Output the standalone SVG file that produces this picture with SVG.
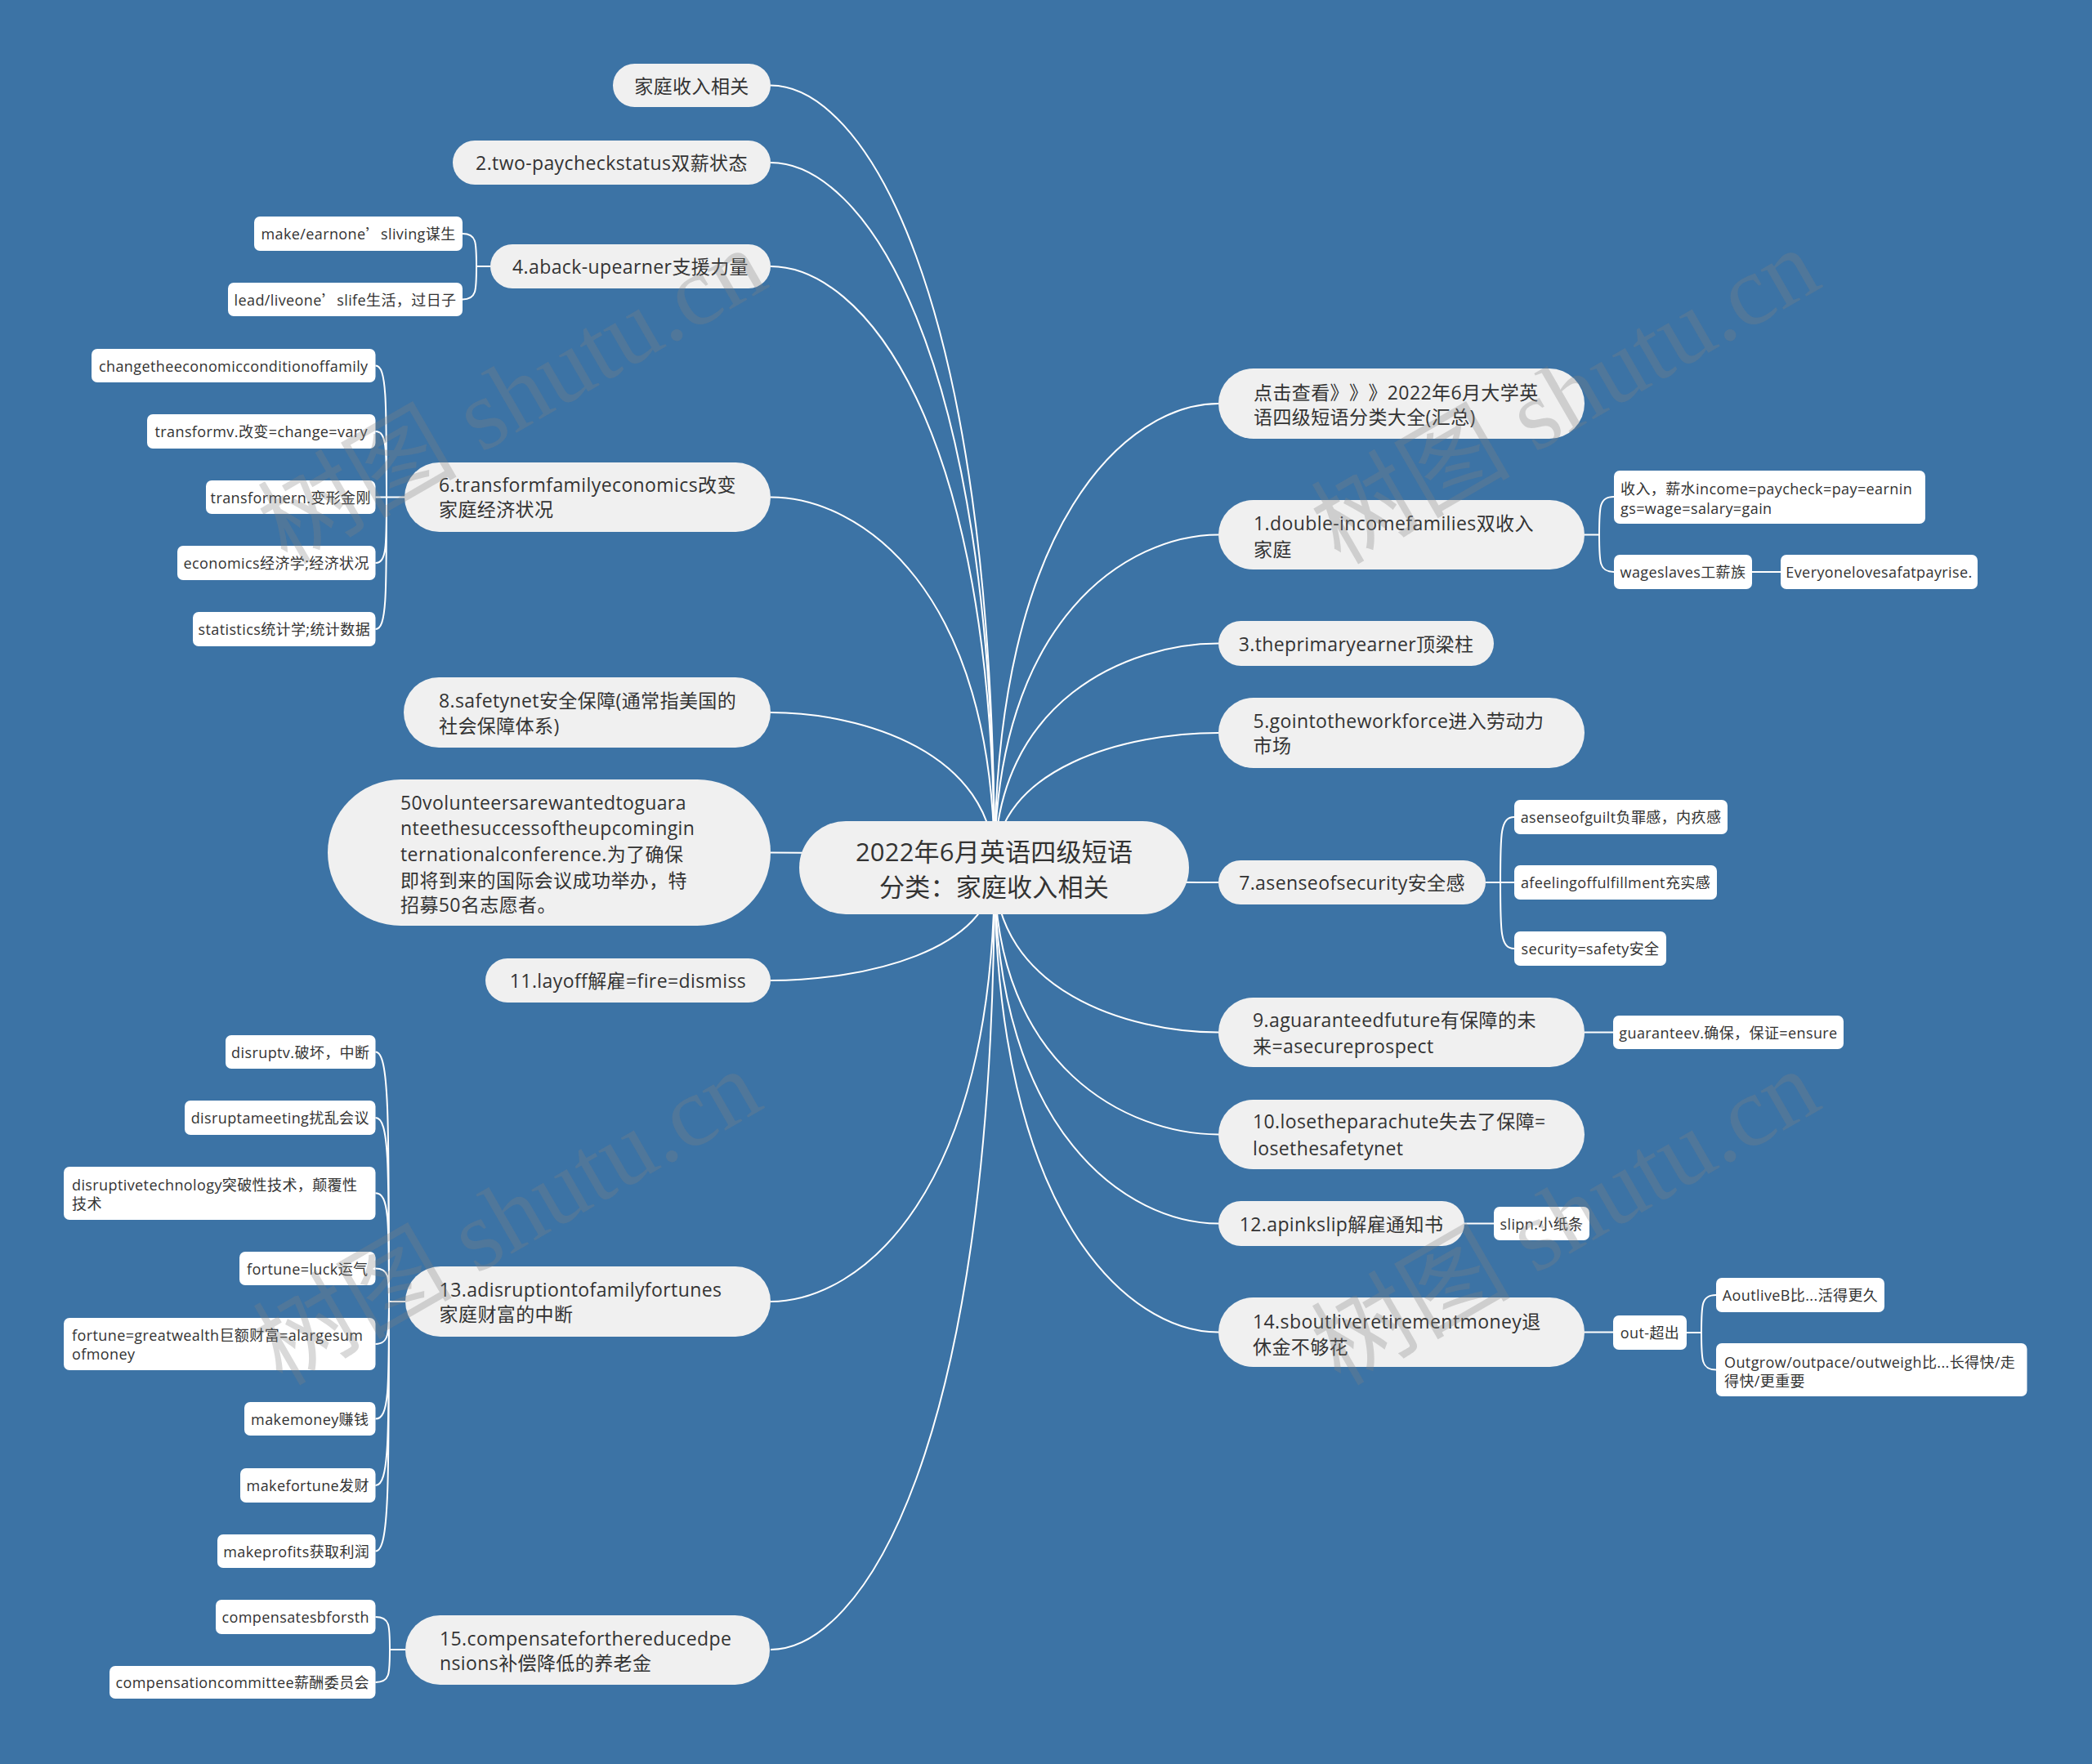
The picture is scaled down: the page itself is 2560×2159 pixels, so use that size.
<svg xmlns="http://www.w3.org/2000/svg" width="2560" height="2159" viewBox="0 0 2560 2159">
<style>
.bg{fill:#3c73a5}
.p{fill:#f0f0f0}
.c{fill:#ffffff}
text{font-family:"Open Sans","Noto Sans CJK SC",sans-serif;fill:#333333;dominant-baseline:central;text-spacing-trim:space-all}
.t1{font-size:23px;letter-spacing:0.4px}
.t2{font-size:18px;letter-spacing:0.4px}
.tr{font-size:31px;letter-spacing:0.2px}
.m{text-anchor:middle}
.q{font-family:"Noto Sans CJK SC",sans-serif}
.ln{fill:none;stroke:#ffffff;stroke-width:2}
.wm{font-family:"Liberation Serif","Noto Sans CJK SC",serif;font-size:122px;fill:#808080;fill-opacity:0.3;dominant-baseline:auto;letter-spacing:0}
</style>
<rect class="bg" x="0" y="0" width="2560" height="2159"/>
<g id="connectors">
<path class="ln" d="M1217,1062 C1217,344 1053,104.5 943,104.5"/>
<path class="ln" d="M1217,1062 C1217,415 1053,199 943,199"/>
<path class="ln" d="M1217,1062 C1217,510 1053,326 943,326"/>
<path class="ln" d="M1217,1062 C1217,722 1053,608.5 943,608.5"/>
<path class="ln" d="M1217,1062 C1217,919.5 1053,872 943,872"/>
<path class="ln" d="M1217,1062 C1217,1048 1053,1043.5 943,1043.5"/>
<path class="ln" d="M1217,1062 C1217,1165.5 1053,1200 943,1200"/>
<path class="ln" d="M1217,1062 C1217,1460 1053,1593 943,1593"/>
<path class="ln" d="M1217,1062 C1217,1780 1053,2019 943,2019"/>
<path class="ln" d="M1217,1062 C1217,636 1381,494 1491,494"/>
<path class="ln" d="M1217,1062 C1217,756.4 1381,654.5 1491,654.5"/>
<path class="ln" d="M1217,1062 C1217,856 1381,787.5 1491,787.5"/>
<path class="ln" d="M1217,1062 C1217,938 1381,897 1491,897"/>
<path class="ln" d="M1217,1062 C1217,1075.5 1381,1080 1491,1080"/>
<path class="ln" d="M1217,1062 C1217,1213 1381,1263.5 1491,1263.5"/>
<path class="ln" d="M1217,1062 C1217,1307 1381,1388.5 1491,1388.5"/>
<path class="ln" d="M1217,1062 C1217,1388.6 1381,1497.5 1491,1497.5"/>
<path class="ln" d="M1217,1062 C1217,1488.4 1381,1630.5 1491,1630.5"/>
<path class="ln" d="M600,326 H583 M583,326 C583,296 583,286 566,286 M583,326 C583,356 583,366.5 566,366.5"/>
<path class="ln" d="M495,608.5 H473 M473,608.5 C473,488 473,447.5 459.5,447.5 M473,608.5 C473,548 473,528 459.5,528 M473,608.5 H459.5 M473,608.5 C473,669 473,689 459.5,689 M473,608.5 C473,730 473,770 459.5,770"/>
<path class="ln" d="M496,1593 H476 M476,1593 C476,1364 476,1287.5 459.5,1287.5 M476,1593 C476,1424 476,1368 459.5,1368 M476,1593 C476,1493.5 476,1460.3 459.5,1460.3 M476,1593 C476,1563 476,1552.5 459.5,1552.5 M476,1593 C476,1632 476,1645 459.5,1645 M476,1593 C476,1700.6 476,1736.5 459.5,1736.5 M476,1593 C476,1762 476,1818 459.5,1818 M476,1593 C476,1822 476,1898.5 459.5,1898.5"/>
<path class="ln" d="M496,2019 H477 M477,2019 C477,1989 477,1979 459.5,1979 M477,2019 C477,2049 477,2059 459.5,2059"/>
<path class="ln" d="M1939,654.5 H1957 M1957,654.5 C1957,620 1957,608 1975,608 M1957,654.5 C1957,688.6 1957,700 1975,700 M2144,700 H2179"/>
<path class="ln" d="M1818,1080 H1836 M1836,1080 C1836,1020 1836,1000 1853,1000 M1836,1080 H1853 M1836,1080 C1836,1141 1836,1161 1853,1161"/>
<path class="ln" d="M1939,1263.5 H1974"/>
<path class="ln" d="M1792,1497.5 H1828"/>
<path class="ln" d="M1939,1630.5 H1974 M2064,1631 H2082 M2082,1631 C2082,1596.5 2082,1585 2100,1585 M2082,1631 C2082,1665 2082,1676.5 2100,1676.5"/>
</g>
<g id="root">
<rect class="p" x="978" y="1005" width="477" height="114" rx="57"/>
<text class="tr m" x="1216.5" y="1041.7">2022年6月英语四级短语</text>
<text class="tr m" x="1216.5" y="1085">分类：家庭收入相关</text>
</g>
<g id="n-jtsr"><rect class="p" x="750" y="78" width="193" height="53" rx="26.5"/><text class="t1 m" x="846.5" y="104.5">家庭收入相关</text></g>
<g id="n2"><rect class="p" x="554" y="172" width="389" height="54" rx="27"/><text class="t1 m" x="748.5" y="199">2.two-paycheckstatus双薪状态</text></g>
<g id="n4"><rect class="p" x="600" y="299" width="343" height="54" rx="27"/><text class="t1 m" x="771.5" y="326">4.aback-upearner支援力量</text></g>
<g id="n4a"><rect class="c" x="311" y="265" width="255" height="42" rx="7"/><text class="t2 m" x="438.5" y="286">make/earnone<tspan class="q">’</tspan>sliving谋生</text></g>
<g id="n4b"><rect class="c" x="279" y="346" width="287" height="41" rx="7"/><text class="t2 m" x="422.5" y="366.5">lead/liveone<tspan class="q">’</tspan>slife生活，过日子</text></g>
<g id="n6"><rect class="p" x="495" y="566" width="448" height="85" rx="42.5"/><text class="t1"><tspan x="537" y="593">6.transformfamilyeconomics改变</tspan><tspan x="537" y="623">家庭经济状况</tspan></text></g>
<g id="n6a"><rect class="c" x="112" y="427" width="347.5" height="41" rx="7"/><text class="t2 m" x="285.75" y="447.5">changetheeconomicconditionoffamily</text></g>
<g id="n6b"><rect class="c" x="180" y="507" width="279.5" height="42" rx="7"/><text class="t2 m" x="319.75" y="528">transformv.改变=change=vary</text></g>
<g id="n6c"><rect class="c" x="252" y="588" width="207.5" height="41" rx="7"/><text class="t2 m" x="355.75" y="608.5">transformern.变形金刚</text></g>
<g id="n6d"><rect class="c" x="217" y="668" width="242.5" height="42" rx="7"/><text class="t2 m" x="338.25" y="689">economics经济学;经济状况</text></g>
<g id="n6e"><rect class="c" x="236" y="749" width="223.5" height="42" rx="7"/><text class="t2 m" x="347.75" y="770">statistics统计学;统计数据</text></g>
<g id="n8"><rect class="p" x="494" y="829" width="449" height="86" rx="43"/><text class="t1"><tspan x="537" y="856.7">8.safetynet安全保障(通常指美国的</tspan><tspan x="537" y="888.3">社会保障体系)</tspan></text></g>
<g id="n50"><rect class="p" x="401" y="954" width="542" height="179" rx="89.5"/><text class="t1"><tspan x="490" y="981.7">50volunteersarewantedtoguara</tspan><tspan x="490" y="1013.3">nteethesuccessoftheupcomingin</tspan><tspan x="490" y="1045">ternationalconference.为了确保</tspan><tspan x="490" y="1076.7">即将到来的国际会议成功举办，特</tspan><tspan x="490" y="1107.3">招募50名志愿者。</tspan></text></g>
<g id="n11"><rect class="p" x="594" y="1173" width="349" height="54" rx="27"/><text class="t1 m" x="768.5" y="1200">11.layoff解雇=fire=dismiss</text></g>
<g id="n13"><rect class="p" x="496" y="1550" width="447" height="86" rx="43"/><text class="t1"><tspan x="537.6" y="1578.3">13.adisruptiontofamilyfortunes</tspan><tspan x="537.6" y="1608.3">家庭财富的中断</tspan></text></g>
<g id="n13a"><rect class="c" x="276" y="1267" width="183.5" height="41" rx="7"/><text class="t2 m" x="367.75" y="1287.5">disruptv.破坏，中断</text></g>
<g id="n13b"><rect class="c" x="226" y="1347" width="233.5" height="42" rx="7"/><text class="t2 m" x="342.75" y="1368">disruptameeting扰乱会议</text></g>
<g id="n13c"><rect class="c" x="78" y="1428" width="381.5" height="65" rx="7"/><text class="t2"><tspan x="88" y="1450">disruptivetechnology突破性技术，颠覆性</tspan><tspan x="88" y="1472.7">技术</tspan></text></g>
<g id="n13d"><rect class="c" x="293" y="1532" width="166.5" height="41" rx="7"/><text class="t2 m" x="376.25" y="1552.5">fortune=luck运气</text></g>
<g id="n13e"><rect class="c" x="78" y="1613" width="381.5" height="64" rx="7"/><text class="t2"><tspan x="88" y="1634">fortune=greatwealth巨额财富=alargesum</tspan><tspan x="88" y="1657">ofmoney</tspan></text></g>
<g id="n13f"><rect class="c" x="299" y="1716" width="160.5" height="41" rx="7"/><text class="t2 m" x="379.25" y="1736.5">makemoney赚钱</text></g>
<g id="n13g"><rect class="c" x="294" y="1797" width="165.5" height="42" rx="7"/><text class="t2 m" x="376.75" y="1818">makefortune发财</text></g>
<g id="n13h"><rect class="c" x="266" y="1878" width="193.5" height="41" rx="7"/><text class="t2 m" x="362.75" y="1898.5">makeprofits获取利润</text></g>
<g id="n15"><rect class="p" x="496" y="1977" width="446" height="85" rx="42.5"/><text class="t1"><tspan x="538" y="2005">15.compensateforthereducedpe</tspan><tspan x="538" y="2035">nsions补偿降低的养老金</tspan></text></g>
<g id="n15a"><rect class="c" x="264" y="1958" width="195.5" height="42" rx="7"/><text class="t2 m" x="361.75" y="1979">compensatesbforsth</text></g>
<g id="n15b"><rect class="c" x="134" y="2039" width="325.5" height="40" rx="7"/><text class="t2 m" x="296.75" y="2059">compensationcommittee薪酬委员会</text></g>
<g id="r0"><rect class="p" x="1491" y="451" width="448" height="86" rx="43"/><text class="t1"><tspan x="1534" y="480">点击查看》》》2022年6月大学英</tspan><tspan x="1534" y="510">语四级短语分类大全(汇总)</tspan></text></g>
<g id="r1"><rect class="p" x="1491" y="612" width="448" height="85" rx="42.5"/><text class="t1"><tspan x="1534" y="640">1.double-incomefamilies双收入</tspan><tspan x="1534" y="671.7">家庭</tspan></text></g>
<g id="r1a"><rect class="c" x="1975" y="576" width="381" height="65" rx="7"/><text class="t2"><tspan x="1983" y="598.3">收入，薪水income=paycheck=pay=earnin</tspan><tspan x="1983" y="621.7">gs=wage=salary=gain</tspan></text></g>
<g id="r1b"><rect class="c" x="1975" y="679" width="169" height="42" rx="7"/><text class="t2 m" x="2059.5" y="700">wageslaves工薪族</text></g>
<g id="r1c"><rect class="c" x="2179" y="679" width="241" height="42" rx="7"/><text class="t2 m" x="2299.5" y="700">Everyonelovesafatpayrise.</text></g>
<g id="r3"><rect class="p" x="1491" y="760" width="337" height="55" rx="27.5"/><text class="t1 m" x="1659.5" y="787.5">3.theprimaryearner顶梁柱</text></g>
<g id="r5"><rect class="p" x="1491" y="854" width="448" height="86" rx="43"/><text class="t1"><tspan x="1533.6" y="881.7">5.gointotheworkforce进入劳动力</tspan><tspan x="1533.6" y="911.7">市场</tspan></text></g>
<g id="r7"><rect class="p" x="1491" y="1053" width="327" height="54" rx="27"/><text class="t1 m" x="1654.5" y="1080">7.asenseofsecurity安全感</text></g>
<g id="r7a"><rect class="c" x="1853" y="979" width="261" height="42" rx="7"/><text class="t2 m" x="1983.5" y="1000">asenseofguilt负罪感，内疚感</text></g>
<g id="r7b"><rect class="c" x="1853" y="1059" width="248" height="42" rx="7"/><text class="t2 m" x="1977" y="1080">afeelingoffulfillment充实感</text></g>
<g id="r7c"><rect class="c" x="1853" y="1140" width="186" height="42" rx="7"/><text class="t2 m" x="1946" y="1161">security=safety安全</text></g>
<g id="r9"><rect class="p" x="1491" y="1221" width="448" height="85" rx="42.5"/><text class="t1"><tspan x="1533" y="1248.2">9.aguaranteedfuture有保障的未</tspan><tspan x="1533" y="1279.9">来=asecureprospect</tspan></text></g>
<g id="r9a"><rect class="c" x="1974" y="1243" width="282" height="41" rx="7"/><text class="t2 m" x="2115" y="1263.5">guaranteev.确保，保证=ensure</text></g>
<g id="r10"><rect class="p" x="1491" y="1346" width="448" height="85" rx="42.5"/><text class="t1"><tspan x="1533" y="1372">10.losetheparachute失去了保障=</tspan><tspan x="1533" y="1404.9">losethesafetynet</tspan></text></g>
<g id="r12"><rect class="p" x="1491" y="1470" width="301" height="55" rx="27.5"/><text class="t1 m" x="1641.5" y="1497.5">12.apinkslip解雇通知书</text></g>
<g id="r12a"><rect class="c" x="1828" y="1477" width="117" height="41" rx="7"/><text class="t2 m" x="1886.5" y="1497.5">slipn.小纸条</text></g>
<g id="r14"><rect class="p" x="1491" y="1588" width="448" height="85" rx="42.5"/><text class="t1"><tspan x="1533" y="1616.7">14.sboutliveretirementmoney退</tspan><tspan x="1533" y="1647.7">休金不够花</tspan></text></g>
<g id="r14a"><rect class="c" x="1974" y="1610" width="90" height="42" rx="7"/><text class="t2 m" x="2019" y="1631">out-超出</text></g>
<g id="r14b"><rect class="c" x="2100" y="1564" width="206" height="42" rx="7"/><text class="t2 m" x="2203" y="1585">AoutliveB比...活得更久</text></g>
<g id="r14c"><rect class="c" x="2100" y="1644" width="380.5" height="65" rx="7"/><text class="t2"><tspan x="2110" y="1666.6">Outgrow/outpace/outweigh比...长得快/走</tspan><tspan x="2110" y="1689.7">得快/更重要</tspan></text></g>
<g id="watermarks">
<text class="wm" transform="translate(351,692) rotate(-30)">树图 shutu.cn</text>
<text class="wm" transform="translate(1640,692) rotate(-30)">树图 shutu.cn</text>
<text class="wm" transform="translate(345,1697) rotate(-30)">树图 shutu.cn</text>
<text class="wm" transform="translate(1640,1697) rotate(-30)">树图 shutu.cn</text>
</g>
</svg>
